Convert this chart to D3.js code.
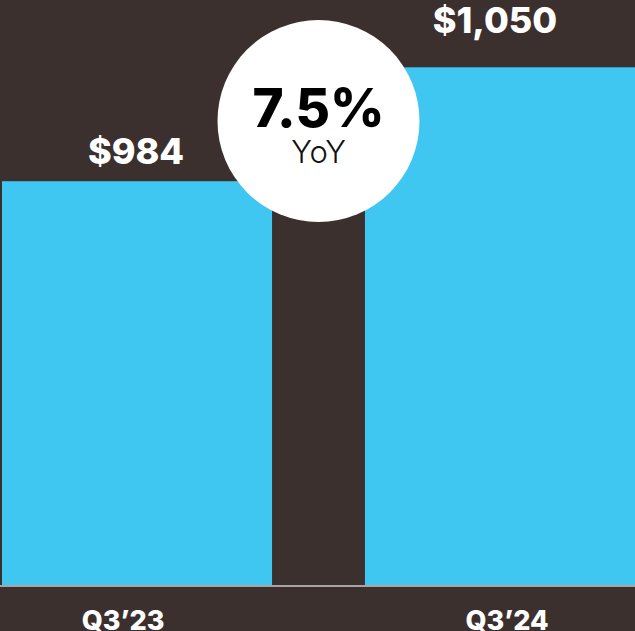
<!DOCTYPE html>
<html>
<head>
<meta charset="utf-8">
<script src="https://cdn.jsdelivr.net/npm/d3@7"></script>
<style>
  html, body { margin: 0; padding: 0; background: #3c302e; }
  svg { display: block; }
  text { font-family: Inter, "Noto Sans", sans-serif; }
</style>
</head>
<body>
<svg id="chart"></svg>
<script>
// data
const quarters = ['Q3\u201923', 'Q3\u201924']
const revenue = [984, 1050]
const valueLabels = ['$984', '$1,050']
const yoyLabel = '7.5%'
const yoySub = 'YoY'

let svgWidth = 635, svgHeight = 631, baseY = 585
let bg = '#3c302e', barColor = '#3fc6f1'

let svg = d3.select('#chart').attr('width', svgWidth).attr('height', svgHeight)
svg.append('rect').attr('width', svgWidth).attr('height', svgHeight).attr('fill', bg)

let x = d3.scaleBand().domain(quarters).range([2, svgWidth]).paddingInner(0.256).paddingOuter(0)
// axis does not start at zero in the original
let y = d3.scaleLinear().domain([750, 1089]).range([baseY, 0])

let g = svg.append('g')

g.selectAll('rect.bar').data(revenue)
  .enter().append('rect')
  .attr('class', 'bar')
  .attr('x', (d, i) => x(quarters[i]))
  .attr('y', d => y(d))
  .attr('width', x.bandwidth())
  .attr('height', d => baseY - y(d))
  .attr('fill', barColor)

// baseline
g.append('line')
  .attr('x1', 0).attr('x2', svgWidth)
  .attr('y1', baseY + 1).attr('y2', baseY + 1)
  .attr('stroke', '#a8a4a3').attr('stroke-width', 2)

// value labels over bars
let labelGap = [17, 34]
g.selectAll('text.val').data(revenue)
  .enter().append('text')
  .attr('class', 'val')
  .attr('x', (d, i) => x(quarters[i]) + x.bandwidth() / 2 - (i == 0 ? 1 : 5))
  .attr('y', (d, i) => y(d) - labelGap[i])
  .attr('text-anchor', 'middle')
  .attr('fill', '#fff')
  .attr('font-size', 36)
  .attr('font-weight', 800)
  .text((d, i) => valueLabels[i])

// category labels
let xAxis = d3.axisBottom(x).tickSize(0).tickPadding(0)
let ax = svg.append('g').attr('transform', `translate(0,${baseY + 45})`).call(xAxis)
ax.select('.domain').remove()
ax.selectAll('text')
  .attr('dy', 0)
  .attr('fill', '#fff')
  .attr('font-size', 27)
  .attr('font-weight', 800)
  .attr('dx', (d, i) => i == 0 ? -14 : 7)

// YoY bubble
let cx = (x(quarters[0]) + x.bandwidth() + x(quarters[1])) / 2
let bubble = svg.append('g').attr('transform', `translate(${cx},121)`)
bubble.append('circle').attr('r', 101).attr('fill', '#fff')
bubble.append('text')
  .attr('y', 6).attr('text-anchor', 'middle')
  .attr('font-size', 53).attr('font-weight', 800).attr('fill', '#000')
  .text(yoyLabel)
bubble.append('text')
  .attr('y', 42).attr('text-anchor', 'middle')
  .attr('font-size', 31).attr('font-weight', 300).attr('fill', '#111')
  .text(yoySub)
</script>
</body>
</html>
